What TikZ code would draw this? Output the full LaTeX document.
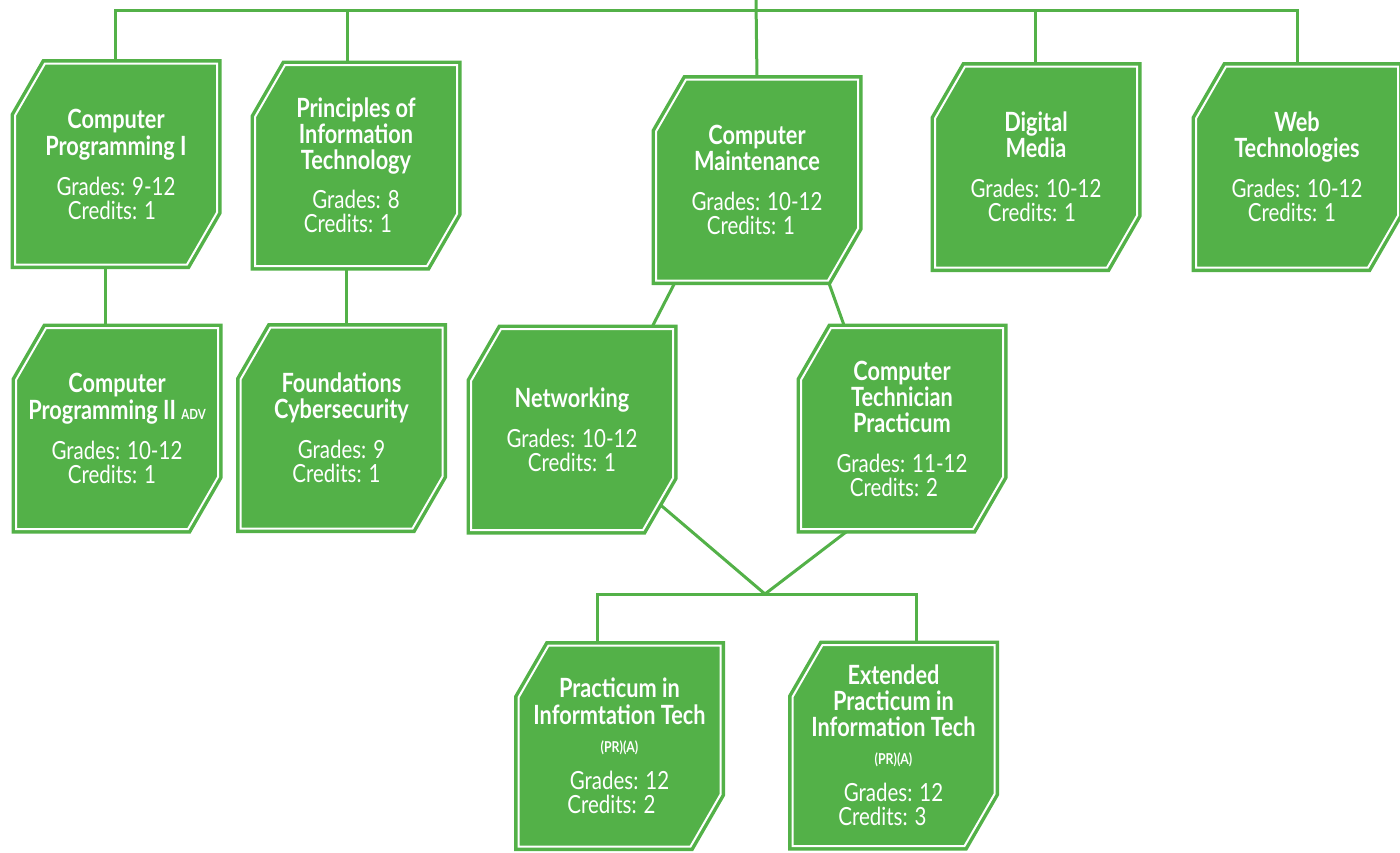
\documentclass[tikz,border=0pt]{standalone}
\usepackage{fontspec}
\setmainfont{Lato}[FakeStretch=0.82]
\usetikzlibrary{backgrounds}
\definecolor{cg}{RGB}{83,177,72}
\newcommand\Tt{\bfseries\fontsize{26.5}{24}\selectfont}
\newcommand\Sm{\fontsize{14}{12}\selectfont}
\newcommand\Sb{\bfseries\fontsize{15}{12}\selectfont}
\newcommand\Rs[1]{\hspace*{#1pt}}
\tikzset{
  course/.style={rectangle, minimum width=202pt, minimum height=201pt,
    inner sep=0pt, outer sep=0pt, text=white, align=center,
    font=\fontsize{25}{24}\selectfont},
  boxline/.style={fill=cg, draw=cg, line width=3.5pt, double=white,
    double distance=2pt, line join=miter},
  link/.style={draw=cg, line width=3pt}
}
\newcommand\chbox[1]{%
  \draw[boxline] ([xshift=30pt]#1.north west) -- (#1.north east)
    -- ([yshift=52pt]#1.south east) -- ([xshift=-30pt]#1.south east)
    -- (#1.south west) -- ([yshift=-52pt]#1.north west) -- cycle;}
\begin{document}
\begin{tikzpicture}[x=1pt,y=-1pt]
\lineskiplimit=-30pt\relax
\useasboundingbox (0,0) rectangle (1400,852);
% nodes
\node[course] (cp1) at (116,164) {\Tt Computer\\[3pt]\Tt Programming I\\[16pt]Grades: 9-12\\Credits: 1\Rs{8}};
\node[course] (pit) at (356,165.5) {\Tt Principles of\\[2pt]\Tt Information\\[2pt]\Tt Technology\\[15pt]Grades: 8\\Credits: 1\Rs{16}};
\node[course] (cm) at (757,180) {\Tt Computer\\[2pt]\Tt Maintenance\\[16pt]Grades: 10-12\\Credits: 1\Rs{12}};
\node[course] (dm) at (1036,167) {\Tt Digital\\[2pt]\Tt Media\\[16pt]Grades: 10-12\\Credits: 1\Rs{8}};
\node[course] (web) at (1297,167) {\Tt Web\\[2pt]\Tt Technologies\\[16pt]Grades: 10-12\\Credits: 1\Rs{10}};
\node[course] (cp2) at (117,428.5) {\Tt Computer\\[3pt]\Tt Programming II {\Sm ADV}\\[16pt]Grades: 10-12\\Credits: 1\Rs{10}};
\node[course] (fc) at (341.5,428) {\Tt Foundations\\[2pt]\Tt Cybersecurity\\[16pt]Grades: 9\\Credits: 1\Rs{10}};
\node[course] (net) at (572,429.5) {\Tt Networking\\[16pt]Grades: 10-12\\Credits: 1};
\node[course] (ctp) at (902,428.5) {\Tt Computer\\[2pt]\Tt Technician\\[2pt]\Tt Practicum\\[16pt]Grades: 11-12\\Credits: 2\Rs{16}};
\node[course] (pr) at (619.5,746) {\Tt Practicum in\\[3pt]\Tt Informtation Tech\\[4pt]\Sb (PR)(A)\\[13pt]Grades: 12\\Credits: 2\Rs{16}};
\node[course] (ext) at (893.5,745.5) {\Tt Extended\\[2pt]\Tt Practicum in\\[2pt]\Tt Information Tech\\[4pt]\Sb (PR)(A)\\[13pt]Grades: 12\Rs{8}\\Credits: 3\Rs{22}};
\begin{scope}[on background layer]
% connectors
\coordinate (top) at (756,0);
\coordinate (bar) at (756,10);
\coordinate (join) at (765,594);
\draw[link] (top) -- (cm.north);
\draw[link] ([xshift=-1pt]cp1.north) |- (bar) -| (web.north);
\draw[link] ([xshift=-9pt]pit.north) |- (bar);
\draw[link] ([xshift=-1pt]dm.north) |- (bar);
\draw[link] ([xshift=-11pt]cp1.south) -- ([xshift=-12pt]cp2.north);
\draw[link] ([xshift=-10pt]pit.south) -- ([xshift=4.5pt]fc.north);
\draw[link] ([xshift=-81pt]cm.south) -- ([xshift=79pt]net.north);
\draw[link] ([xshift=71pt]cm.south) -- ([xshift=-57pt]ctp.north);
\draw[link] (net.center) -- (join);
\draw[link] ([xshift=-52pt]ctp.south) -- (join);
\draw[link] ([xshift=-22.5pt]pr.north) |- (join) -| ([xshift=22.5pt]ext.north);
% boxes
\foreach \n in {cp1,pit,cm,dm,web,cp2,fc,net,ctp,pr,ext}{\chbox{\n}}
\end{scope}
\end{tikzpicture}
\end{document}
